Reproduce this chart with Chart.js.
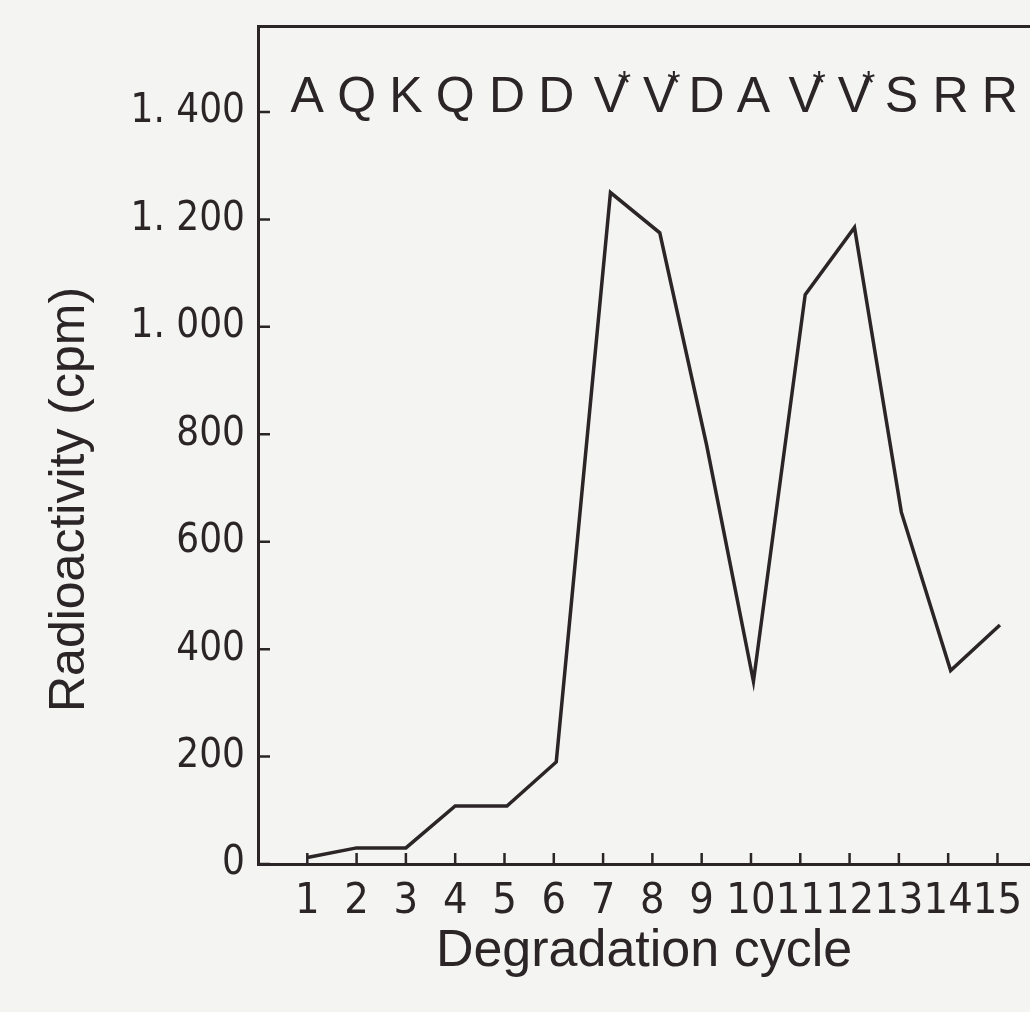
<!DOCTYPE html>
<html>
<head>
<meta charset="utf-8">
<script src="https://cdn.jsdelivr.net/npm/chart.js@4.4.1/dist/chart.umd.min.js"></script>
<style>
  html, body { margin: 0; padding: 0; background: #f4f4f3; overflow: hidden; }
  #wrap { width: 1030px; height: 1012px; }
</style>
</head>
<body>
<div id="wrap"><canvas id="myChart" width="1030" height="1012"></canvas></div>
<script>
// cycle position of each measured point (as drawn) and counts
const cycleX = [1, 2, 3, 4, 5.05, 6.05, 7.15, 8.15, 9.1, 10.05, 11.1, 12.1, 13.05, 14.05, 15.05];
const cpm = [12, 30, 30, 108, 108, 190, 1250, 1175, 780, 340, 1060, 1185, 655, 360, 445];

// residue read at each cycle, * = labelled valine
const residues = ['A', 'Q', 'K', 'Q', 'D', 'D', 'V', 'V', 'D', 'A', 'V', 'V', 'S', 'R', 'R'];
const starred = [false, false, false, false, false, false, true, true, false, false, true, true, false, false, false];

// axis ticks
const xTicks = [1, 2, 3, 4, 5, 6, 7, 8, 9, 10, 11, 12, 13, 14, 15];
const yTicks = [0, 200, 400, 600, 800, 1000, 1200, 1400];
const yTickLabels = ['0', '200', '400', '600', '800', '1. 000', '1. 200', '1. 400'];

const ink = '#2b2528';
const narrow = '"Liberation Sans Narrow", "DejaVu Sans Condensed", sans-serif';
const plain = '"Liberation Sans", Arial, Helvetica, sans-serif';

// inward tick marks, residue letters, y title
const decor = {
    id: 'decor',
    afterDraw(chart) {
        const ctx = chart.ctx;
        const xs = chart.scales.x;
        const ys = chart.scales.y;
        const a = chart.chartArea;
        ctx.save();
        ctx.strokeStyle = ink;
        ctx.lineWidth = 2.5;
        ctx.beginPath();
        ys.ticks.forEach(t => {
            const y = ys.getPixelForValue(t.value);
            ctx.moveTo(a.left, y);
            ctx.lineTo(a.left + 12, y);
        });
        xs.ticks.forEach(t => {
            const x = xs.getPixelForValue(t.value);
            ctx.moveTo(x, a.bottom);
            ctx.lineTo(x, a.bottom - 11);
        });
        ctx.stroke();

        ctx.fillStyle = ink;
        ctx.textAlign = 'center';
        ctx.textBaseline = 'alphabetic';
        const base = ys.getPixelForValue(1400);
        residues.forEach((r, i) => {
            const x = xs.getPixelForValue(cycleX[i]);
            ctx.font = '50px ' + plain;
            ctx.fillText(r, x, base);
            if (starred[i]) {
                ctx.font = '34px ' + plain;
                ctx.fillText('*', x + 14, base - 18);
            }
        });

        ctx.translate(70, a.top + (a.bottom - a.top) * 0.565);
        ctx.rotate(-Math.PI / 2);
        ctx.font = '50px ' + plain;
        ctx.textBaseline = 'middle';
        ctx.fillText('Radioactivity (cpm)', 0, 0);
        ctx.restore();
    }
};

const points = cycleX.map((x, i) => ({ x: x, y: cpm[i] }));

const config = {
    type: 'line',
    data: {
        datasets: [{
            data: points,
            borderColor: ink,
            borderWidth: 3.5,
            borderJoinStyle: 'miter',
            pointRadius: 0,
            tension: 0,
            fill: false
        }]
    },
    options: {
        responsive: false,
        animation: false,
        layout: { padding: { top: 26, right: 0, bottom: 0, left: 0 } },
        plugins: { legend: { display: false }, tooltip: { enabled: false } },
        scales: {
            x: {
                type: 'linear',
                min: 0,
                max: 15.66,
                afterBuildTicks: s => { s.ticks = xTicks.map(v => ({ value: v })); },
                afterFit: s => { s.height = 148; s.paddingLeft = 0; s.paddingRight = 0; },
                grid: { display: false, drawTicks: false },
                border: { display: true, color: ink, width: 3 },
                ticks: {
                    color: ink,
                    font: { family: narrow, size: 43 },
                    padding: 12,
                    maxRotation: 0,
                    autoSkip: false,
                    callback: v => String(v)
                },
                title: {
                    display: true,
                    text: 'Degradation cycle',
                    color: ink,
                    font: { family: plain, size: 52 },
                    padding: { top: 0, bottom: 29 }
                }
            },
            x2: {
                type: 'linear',
                position: 'top',
                min: 0,
                max: 1,
                afterFit: s => { s.height = 0; s.paddingLeft = 0; s.paddingRight = 0; },
                grid: { display: false, drawTicks: false },
                border: { display: true, color: ink, width: 3 },
                ticks: { display: false }
            },
            y: {
                min: 0,
                max: 1560,
                afterBuildTicks: s => { s.ticks = yTicks.map(v => ({ value: v })); },
                afterFit: s => { s.width = 258; s.paddingTop = 0; s.paddingBottom = 0; },
                grid: { display: false, drawTicks: false },
                border: { display: true, color: ink, width: 3 },
                ticks: {
                    color: ink,
                    font: { family: narrow, size: 40 },
                    padding: 13,
                    callback: v => yTickLabels[yTicks.indexOf(v)]
                }
            }
        }
    },
    plugins: [decor]
};

const myChart = new Chart(document.getElementById('myChart'), config);
</script>
</body>
</html>
